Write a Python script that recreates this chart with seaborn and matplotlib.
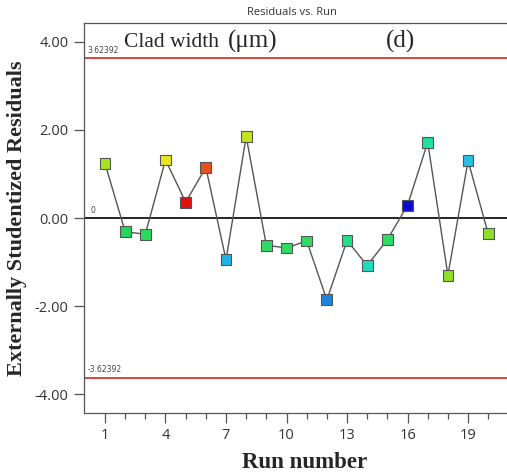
import matplotlib
matplotlib.use("Agg")
import matplotlib.pyplot as plt
import numpy as np
import pandas as pd
import seaborn as sns

# data
runs = list(range(1, 21))
residuals = [1.24, -0.31, -0.37, 1.32, 0.36, 1.15, -0.95, 1.85, -0.62, -0.68,
             -0.52, -1.86, -0.51, -1.08, -0.49, 0.29, 1.72, -1.30, 1.30, -0.36]
point_colors = ['#a8e21e', '#22d85a', '#28dc5a', '#e6e61a', '#e01010', '#e8501e',
                '#1eb4e8', '#c0e41e', '#2edc64', '#2edc64', '#2edc64', '#1e82e0',
                '#22e08c', '#22dcc0', '#2edc64', '#0a0ad2', '#22e0a0', '#8ce02a',
                '#28c0e6', '#8ce02a']
limit = 3.62392
xticks = [1, 4, 7, 10, 13, 16, 19]
yticks = [-4, -2, 0, 2, 4]

df = pd.DataFrame({'run': runs, 'residual': residuals})

sns.set_style('white')
fig = plt.figure(figsize=(5.07, 4.75), dpi=100)
ax = fig.add_axes([84 / 507, 1 - 413 / 475, 1 - 84 / 507, 390 / 475])

sns.lineplot(data=df, x='run', y='residual', ax=ax, color='#555555', lw=1.0, zorder=2)
sns.scatterplot(data=df, x='run', y='residual', hue='run', palette=point_colors,
                marker='s', s=60, edgecolor='#555555', linewidth=0.8,
                legend=False, ax=ax, zorder=3)

# limit and zero lines
ax.axhline(limit, color='#d62020', lw=1.2, zorder=1)
ax.axhline(-limit, color='#d62020', lw=1.2, zorder=1)
ax.axhline(0, color='black', lw=1.2, zorder=1)
ax.text(0.15, limit + 0.12, f'{limit:g}', fontsize=5.5, color='#444444')
ax.text(0.15, -limit + 0.12, f'{-limit:g}', fontsize=5.5, color='#444444')
ax.text(0.3, 0.12, '0', fontsize=5.5, color='#444444')

ax.text(1.95, 3.98, 'Clad width', family='Liberation Serif', fontsize=15.5, va='center')
ax.text(7.1, 4.0, '(μm)', family='Liberation Serif', fontsize=18, va='center')
ax.text(14.95, 4.0, '(d)', family='Liberation Serif', fontsize=18, va='center')

ax.set_xlim(-0.04, 20.93)
ax.set_ylim(-4.43, 4.43)
ax.set_xticks(xticks)
ax.set_xticks(runs, minor=True)
ax.set_yticks(yticks)
ax.set_yticklabels([f'{v:.2f}' for v in yticks])
ax.tick_params(axis='both', which='major', direction='out', length=7, width=0.9,
               color='#555555', labelsize=10.5, labelcolor='#333333', pad=4,
               bottom=True, left=True)
ax.tick_params(axis='x', which='minor', direction='out', length=4, width=0.9,
               color='#555555', bottom=True)
for lab in ax.get_xticklabels() + ax.get_yticklabels():
    lab.set_family('Open Sans')

for side in ['left', 'bottom', 'top']:
    ax.spines[side].set_color('#555555')
    ax.spines[side].set_linewidth(0.9)
ax.spines['right'].set_visible(False)

ax.set_xlabel('Run number', family='Liberation Serif', fontsize=16.5,
              fontweight='bold')
ax.xaxis.set_label_coords((305 - 84) / (507 - 84), 1 - (463 - 23) / 390)
ax.xaxis.label.set_va('center')
ax.set_ylabel('Externally Studentized Residuals', family='Liberation Serif',
              fontsize=16, fontweight='bold')
ax.yaxis.set_label_coords(-(84 - 17) / (507 - 84), 0.5)
ax.yaxis.label.set_va('center')
fig.text(0.575, 0.973, 'Residuals vs. Run', family='Open Sans', fontsize=8,
         color='#333333', ha='center', va='center')

fig.savefig('out.png', dpi=100)
